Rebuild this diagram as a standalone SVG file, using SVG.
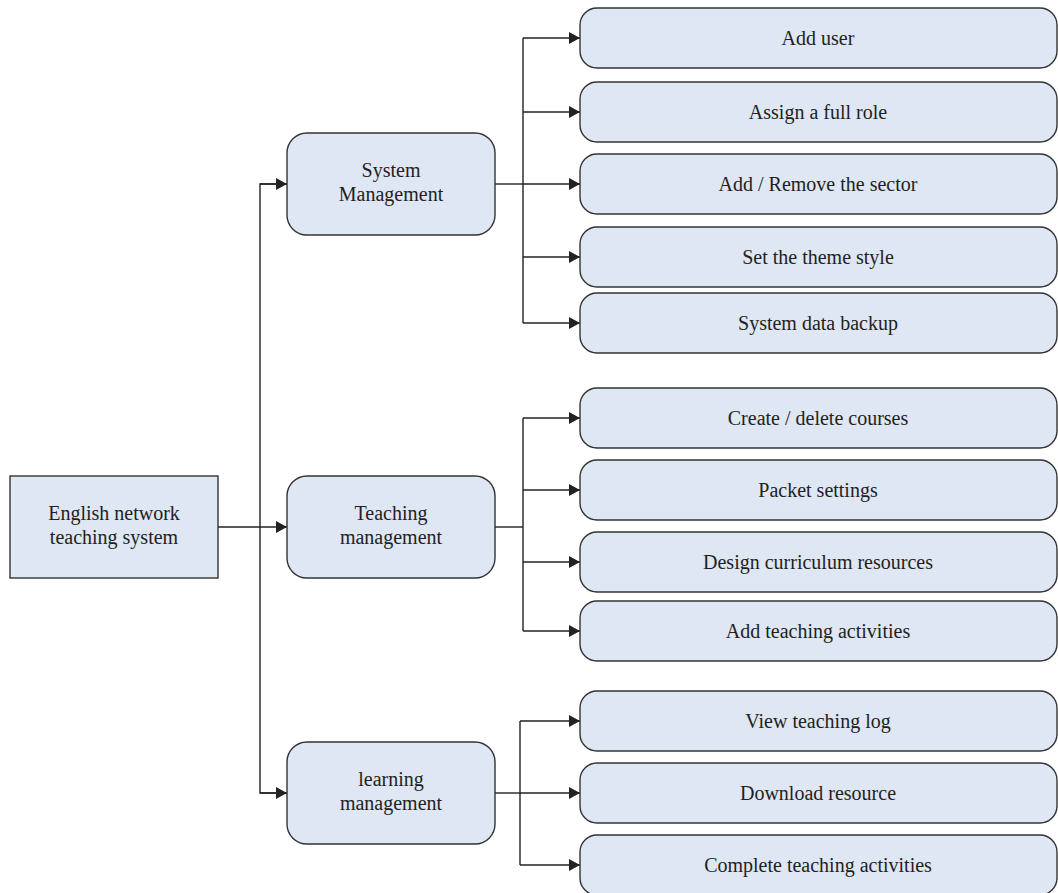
<svg xmlns="http://www.w3.org/2000/svg" width="1058" height="893" viewBox="0 0 1058 893">
<style>
.box{fill:#dfe6f4;stroke:#333;stroke-width:1.4}
.t{font-family:"Liberation Serif",serif;font-size:20px;fill:#231f20;text-anchor:middle}
.c{fill:none;stroke:#222;stroke-width:1.4}
</style>
<defs>
<marker id="ah" markerUnits="userSpaceOnUse" markerWidth="12" markerHeight="12" refX="11" refY="6" orient="auto">
<path d="M0,0 L11,6 L0,12 Z" fill="#222"/>
</marker>
</defs>
<rect width="1058" height="893" fill="#fff"/>
<g id="connectors">
<line class="c" x1="218" y1="527" x2="287" y2="527" marker-end="url(#ah)"/>
<polyline class="c" points="287,184 260,184 260,793 287,793"/>
<line class="c" x1="260" y1="184" x2="287" y2="184" marker-end="url(#ah)"/>
<line class="c" x1="260" y1="793" x2="287" y2="793" marker-end="url(#ah)"/>
<line class="c" x1="495" y1="184" x2="523" y2="184"/>
<line class="c" x1="523" y1="38" x2="523" y2="323"/>
<line class="c" x1="523" y1="38" x2="580" y2="38" marker-end="url(#ah)"/>
<line class="c" x1="523" y1="112" x2="580" y2="112" marker-end="url(#ah)"/>
<line class="c" x1="523" y1="184" x2="580" y2="184" marker-end="url(#ah)"/>
<line class="c" x1="523" y1="257" x2="580" y2="257" marker-end="url(#ah)"/>
<line class="c" x1="523" y1="323" x2="580" y2="323" marker-end="url(#ah)"/>
<line class="c" x1="495" y1="527" x2="523" y2="527"/>
<line class="c" x1="523" y1="418" x2="523" y2="631"/>
<line class="c" x1="523" y1="418" x2="580" y2="418" marker-end="url(#ah)"/>
<line class="c" x1="523" y1="490" x2="580" y2="490" marker-end="url(#ah)"/>
<line class="c" x1="523" y1="562" x2="580" y2="562" marker-end="url(#ah)"/>
<line class="c" x1="523" y1="631" x2="580" y2="631" marker-end="url(#ah)"/>
<line class="c" x1="495" y1="793" x2="520" y2="793"/>
<line class="c" x1="520" y1="721" x2="520" y2="865"/>
<line class="c" x1="520" y1="721" x2="580" y2="721" marker-end="url(#ah)"/>
<line class="c" x1="520" y1="793" x2="580" y2="793" marker-end="url(#ah)"/>
<line class="c" x1="520" y1="865" x2="580" y2="865" marker-end="url(#ah)"/>
</g>
<g id="root">
<rect class="box" x="10" y="476" width="208" height="102"/>
<text class="t" x="114" y="520">English network</text>
<text class="t" x="114" y="544">teaching system</text>
</g>
<g id="system-management">
<rect class="box" x="287" y="133" width="208" height="102" rx="20"/>
<text class="t" x="391" y="177">System</text>
<text class="t" x="391" y="201">Management</text>
</g>
<g id="teaching-management">
<rect class="box" x="287" y="476" width="208" height="102" rx="20"/>
<text class="t" x="391" y="520">Teaching</text>
<text class="t" x="391" y="544">management</text>
</g>
<g id="learning-management">
<rect class="box" x="287" y="742" width="208" height="102" rx="20"/>
<text class="t" x="391" y="786">learning</text>
<text class="t" x="391" y="810">management</text>
</g>
<g id="leaf-add-user"><rect class="box" x="580" y="8" width="477" height="60" rx="17"/><text class="t" x="818" y="45">Add user</text></g>
<g id="leaf-assign-role"><rect class="box" x="580" y="82" width="477" height="60" rx="17"/><text class="t" x="818" y="119">Assign a full role</text></g>
<g id="leaf-add-remove-sector"><rect class="box" x="580" y="154" width="477" height="60" rx="17"/><text class="t" x="818" y="191">Add / Remove the sector</text></g>
<g id="leaf-theme-style"><rect class="box" x="580" y="227" width="477" height="60" rx="17"/><text class="t" x="818" y="264">Set the theme style</text></g>
<g id="leaf-data-backup"><rect class="box" x="580" y="293" width="477" height="60" rx="17"/><text class="t" x="818" y="330">System data backup</text></g>
<g id="leaf-create-courses"><rect class="box" x="580" y="388" width="477" height="60" rx="17"/><text class="t" x="818" y="425">Create / delete courses</text></g>
<g id="leaf-packet-settings"><rect class="box" x="580" y="460" width="477" height="60" rx="17"/><text class="t" x="818" y="497">Packet settings</text></g>
<g id="leaf-design-curriculum"><rect class="box" x="580" y="532" width="477" height="60" rx="17"/><text class="t" x="818" y="569">Design curriculum resources</text></g>
<g id="leaf-add-activities"><rect class="box" x="580" y="601" width="477" height="60" rx="17"/><text class="t" x="818" y="638">Add teaching activities</text></g>
<g id="leaf-view-log"><rect class="box" x="580" y="691" width="477" height="60" rx="17"/><text class="t" x="818" y="728">View teaching log</text></g>
<g id="leaf-download"><rect class="box" x="580" y="763" width="477" height="60" rx="17"/><text class="t" x="818" y="800">Download resource</text></g>
<g id="leaf-complete-activities"><rect class="box" x="580" y="835" width="477" height="60" rx="17"/><text class="t" x="818" y="872">Complete teaching activities</text></g>
</svg>
